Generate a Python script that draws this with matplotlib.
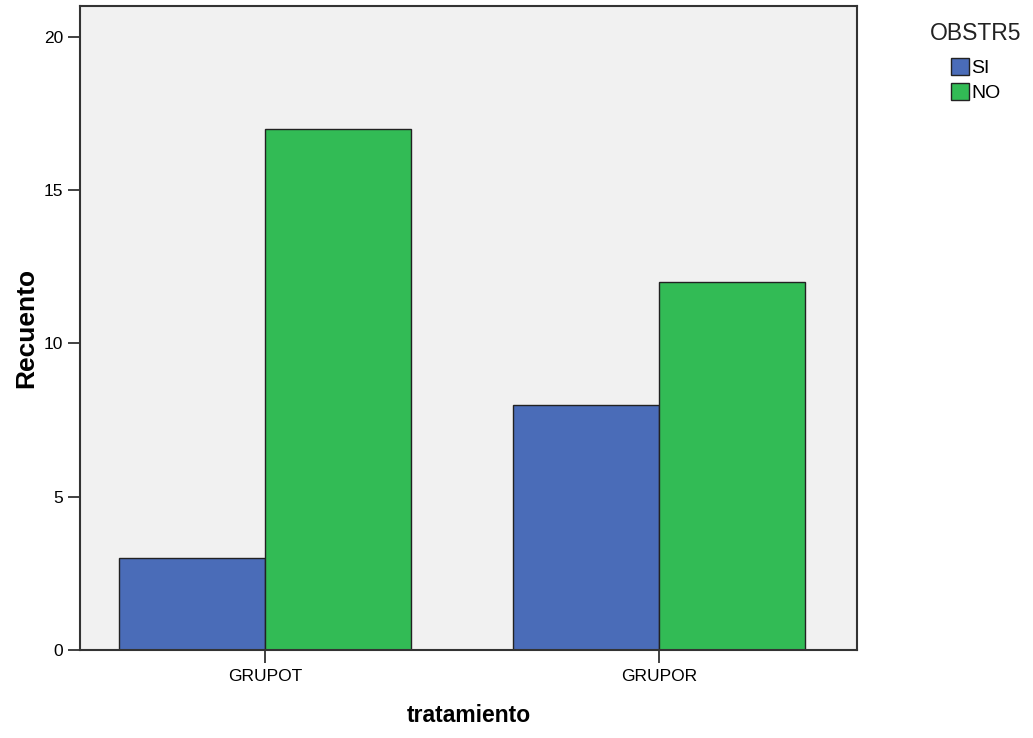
import matplotlib.pyplot as plt
import numpy as np
from matplotlib.patches import Patch

plt.rcParams['font.family'] = ['Liberation Sans', 'DejaVu Sans']

# data
groups = ["GRUPOT", "GRUPOR"]
series = ["SI", "NO"]
si_counts = [3, 8]
no_counts = [17, 12]
colors = ["#4A6CB8", "#32BB55"]

x = np.arange(len(groups))
width = 0.37

fig = plt.figure(figsize=(10.33, 7.38), dpi=100)
ax = fig.add_axes([0.0774, 0.1192, 0.7522, 0.8727])
ax.set_facecolor("#F1F1F1")

ax.bar(x - width/2, si_counts, width, color=colors[0], edgecolor="#222222", linewidth=1.0)
ax.bar(x + width/2, no_counts, width, color=colors[1], edgecolor="#222222", linewidth=1.0)

ax.set_xlim(-0.47, 1.503)
ax.set_ylim(0, 21)
ax.set_yticks([0, 5, 10, 15, 20])
ax.set_xticks(x)
ax.set_xticklabels(groups)
ax.tick_params(axis='both', length=9, width=1.3, color="#333333", labelsize=12.5)
ax.tick_params(axis='x', pad=5)
ax.tick_params(axis='y', pad=3)

for s in ax.spines.values():
    s.set_linewidth(1.5)
    s.set_color("#333333")

ax.set_ylabel("Recuento", fontsize=19, fontweight='bold', labelpad=4)
ax.set_xlabel("tratamiento", fontsize=16.5, fontweight='bold', labelpad=14)

# legend
fig.text(0.9003, 0.954, "OBSTR5", fontsize=16.5, ha='left', va='center', color="#222222")
handles = [Patch(facecolor=c, edgecolor="#222222", linewidth=1.0) for c in colors]
fig.legend(handles, series, loc='upper left', bbox_to_anchor=(0.9206, 0.921),
           frameon=False, fontsize=14, handlelength=0.93, handleheight=0.93,
           handletextpad=0.1, labelspacing=0.3, borderaxespad=0, borderpad=0)

fig.savefig("out.png", dpi=100)
